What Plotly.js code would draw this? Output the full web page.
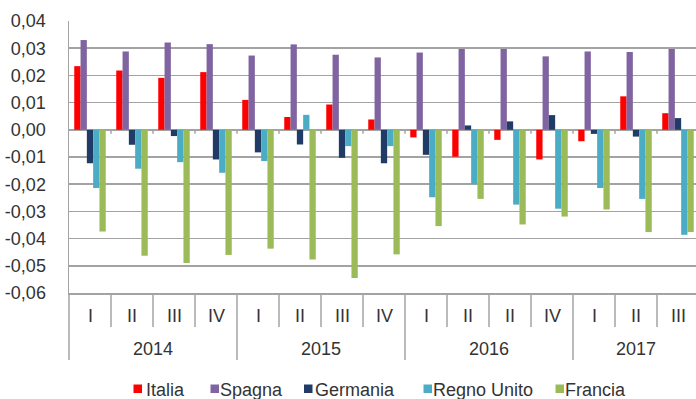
<!DOCTYPE html>
<html>
<head>
<meta charset="utf-8">
<script src="https://cdn.plot.ly/plotly-3.0.1.min.js"></script>
<style>html,body{margin:0;padding:0;background:#fff;}#chart{width:696px;height:399px;}</style>
</head>
<body>
<div id="chart"></div>
<script>
// ---- Data ----
const quarterLabels = ["I","II","III","IV","I","II","III","IV","I","II","II","IV","I","II","III"];
const yearLabels = ["2014","2015","2016","2017"];
const quartersPerYear = [4,4,4,3];
const seriesNames = ["Italia","Spagna","Germania","Regno Unito","Francia"];
const italia     = [0.0234, 0.0218, 0.0191, 0.0212, 0.0110, 0.0047, 0.0093, 0.0038, -0.0028, -0.0099, -0.0037, -0.0109, -0.0042, 0.0123, 0.0061];
const spagna     = [0.0330, 0.0288, 0.0321, 0.0315, 0.0273, 0.0314, 0.0276, 0.0266, 0.0284, 0.0297, 0.0297, 0.0270, 0.0288, 0.0286, 0.0297];
const germania   = [-0.0123, -0.0055, -0.0023, -0.0109, -0.0083, -0.0054, -0.0103, -0.0123, -0.0092, 0.0016, 0.0031, 0.0054, -0.0015, -0.0025, 0.0043];
const regnoUnito = [-0.0214, -0.0143, -0.0119, -0.0158, -0.0115, 0.0055, -0.0060, -0.0060, -0.0248, -0.0200, -0.0275, -0.0290, -0.0214, -0.0254, -0.0386];
const francia    = [-0.0374, -0.0463, -0.0490, -0.0460, -0.0437, -0.0477, -0.0545, -0.0458, -0.0354, -0.0254, -0.0348, -0.0319, -0.0293, -0.0376, -0.0376];
const yTickValues = [-0.06, -0.05, -0.04, -0.03, -0.02, -0.01, 0, 0.01, 0.02, 0.03, 0.04];

// ---- Styles ----
const seriesValues = [italia, spagna, germania, regnoUnito, francia];
const seriesColors = ["#FF0000", "#8064A2", "#1F3B66", "#4BACC6", "#9BBB59"];
const gridColor = "#a3a3a3";
const textColor = "#333333";
const fontFamily = "'Liberation Sans', Arial, sans-serif";

const W = 696, H = 399;
const M = {l: 69, r: 0, t: 21, b: 106};
const plotW = W - M.l - M.r, plotH = H - M.t - M.b;
const groupPx = 42;
const xMax = -0.5 + plotW / groupPx;

const xIdx = quarterLabels.map((q, i) => i);
const yTickText = yTickValues.map(v => v.toFixed(2).replace('.', ','));

const traces = seriesNames.map((name, s) => ({
  type: 'bar',
  name: name,
  x: xIdx,
  y: seriesValues[s],
  marker: {color: seriesColors[s], line: {width: 0}},
  showlegend: false,
  hoverinfo: 'x+y+name'
}));

const pxToPaperY = px => (M.t + plotH - px) / plotH;
const pxToPaperX = px => (px - M.l) / plotW;

const shapes = [];
const annotations = [];

// boundaries between years
const yearStart = [];
let acc = 0;
quartersPerYear.forEach(n => { yearStart.push(acc); acc += n; });
const yearBoundaries = new Set(yearStart.map(s => s - 0.5).concat([acc - 0.5]));

// dividers under axis + little ticks on zero line
for (let k = 0; k <= quarterLabels.length; k++) {
  const b = k - 0.5;
  const isYear = yearBoundaries.has(b);
  const bottomPx = isYear ? 360 : 327;
  if (k === 0) {
    shapes.push({type: 'line', xref: 'paper', yref: 'paper', x0: 0, x1: 0,
      y0: 0, y1: pxToPaperY(bottomPx), line: {color: gridColor, width: 1.5}});
  } else {
    shapes.push({type: 'line', xref: 'x', yref: 'paper', x0: b, x1: b,
      y0: 0, y1: pxToPaperY(bottomPx), line: {color: gridColor, width: 1.5}});
    shapes.push({type: 'line', xref: 'x', yref: 'y', ysizemode: 'pixel', yanchor: 0,
      x0: b, x1: b, y0: -4, y1: 0, line: {color: gridColor, width: 1.5}});
  }
}

// quarter labels
quarterLabels.forEach((q, i) => {
  annotations.push({xref: 'x', yref: 'paper', x: i, y: pxToPaperY(315.5),
    text: q, showarrow: false, xanchor: 'center', yanchor: 'middle',
    font: {family: fontFamily, size: 18, color: textColor}});
});
// year labels
yearLabels.forEach((yl, j) => {
  const c = yearStart[j] + (quartersPerYear[j] - 1) / 2;
  annotations.push({xref: 'x', yref: 'paper', x: c, y: pxToPaperY(349),
    text: yl, showarrow: false, xanchor: 'center', yanchor: 'middle',
    font: {family: fontFamily, size: 18, color: textColor}});
});

// manual legend
const legendSquareLeft = [133.5, 210.5, 304, 423.5, 555.5];
const legendTextLeft = [146, 220, 315, 433, 565];
seriesNames.forEach((name, s) => {
  const x0 = legendSquareLeft[s];
  shapes.push({type: 'rect', xref: 'paper', yref: 'paper',
    x0: pxToPaperX(x0), x1: pxToPaperX(x0 + 8.5),
    y0: pxToPaperY(384.5), y1: pxToPaperY(393),
    fillcolor: seriesColors[s], line: {width: 0}});
  annotations.push({xref: 'paper', yref: 'paper', x: pxToPaperX(legendTextLeft[s] - 2),
    y: pxToPaperY(389.5), text: name, showarrow: false, xanchor: 'left', yanchor: 'middle',
    font: {family: fontFamily, size: 18, color: textColor}});
});

const layout = {
  width: W, height: H,
  margin: M,
  paper_bgcolor: '#ffffff', plot_bgcolor: '#ffffff',
  font: {family: fontFamily, size: 18, color: textColor},
  barmode: 'group',
  bargap: 0.25,
  bargroupgap: 0,
  showlegend: false,
  xaxis: {
    range: [-0.5, xMax], showgrid: false, zeroline: false, showticklabels: false,
    ticks: '', showline: true, linecolor: gridColor, linewidth: 1.5, fixedrange: true
  },
  yaxis: {
    range: [-0.06, 0.04], tickvals: yTickValues, ticktext: yTickText,
    showgrid: true, gridcolor: gridColor, gridwidth: 1.5,
    zeroline: true, zerolinecolor: gridColor, zerolinewidth: 1.5,
    showline: true, linecolor: gridColor, linewidth: 1.5,
    ticks: '', ticklabelstandoff: 18,
    tickfont: {family: fontFamily, size: 18, color: textColor},
    fixedrange: true
  },
  shapes: shapes,
  annotations: annotations
};

Plotly.newPlot('chart', traces, layout, {displayModeBar: false, staticPlot: true});
</script>
</body>
</html>
